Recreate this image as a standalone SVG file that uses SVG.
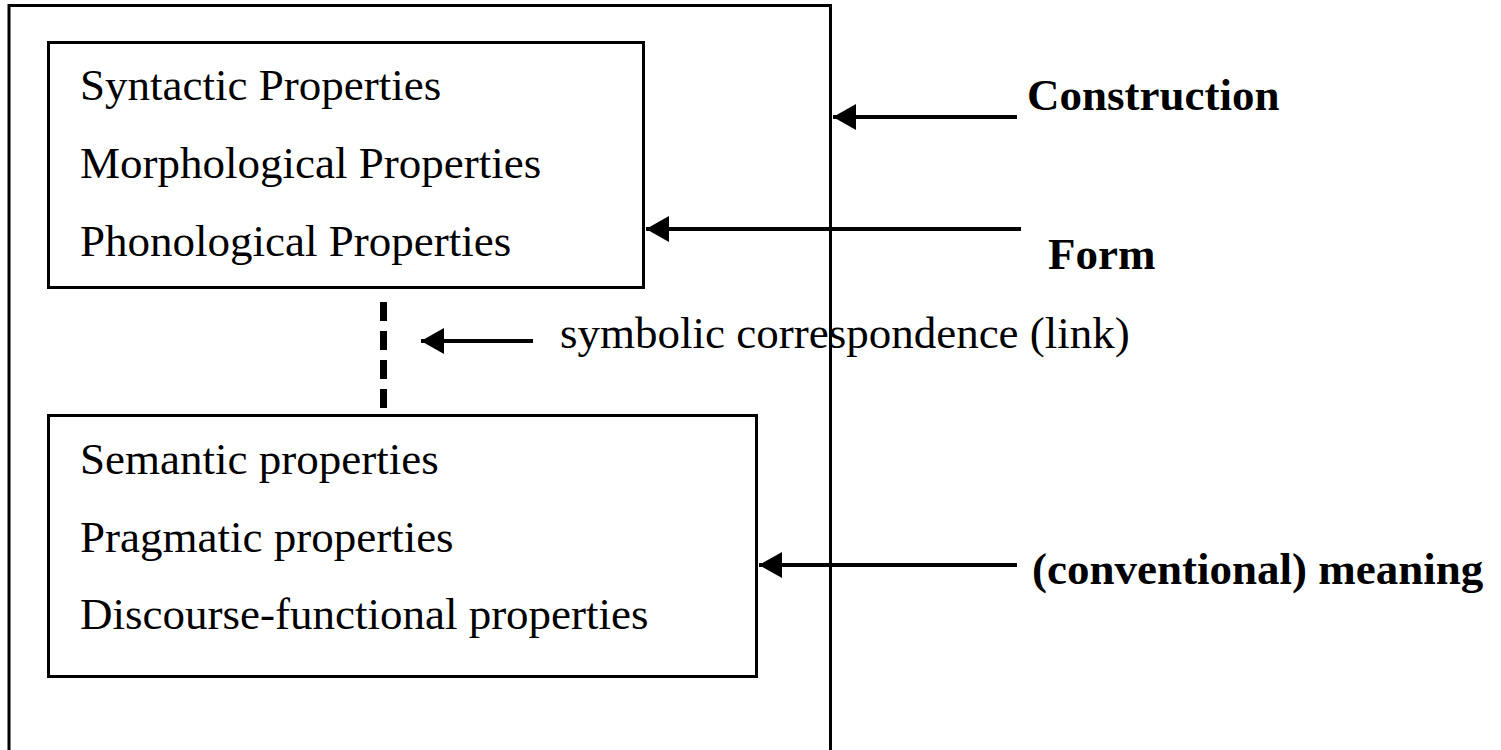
<svg xmlns="http://www.w3.org/2000/svg" width="1501" height="750" viewBox="0 0 1501 750">
  <style>
    .box { fill: none; stroke: #000; stroke-width: 3; }
    .t { font-family: "Liberation Serif", "Times New Roman", serif; font-size: 45px; fill: #000; }
    .b { font-weight: bold; }
    .conn { stroke: #000; stroke-width: 4; fill: none; }
    .dash { stroke: #000; stroke-width: 7; stroke-dasharray: 19 10; fill: none; }
  </style>
  <defs>
    <marker id="ah" markerUnits="userSpaceOnUse" markerWidth="26" markerHeight="28" viewBox="0 0 26 28" refX="24" refY="14" orient="auto">
      <path d="M24,14 L1,1 L1,27 Z" fill="#000"/>
    </marker>
  </defs>
  <rect width="1501" height="750" fill="#fff"/>

  <g id="construction">
    <path class="box" d="M9,760 L9,5.5 L830.5,5.5 L830.5,760"/>
    <text class="t b" x="1027" y="110">Construction</text>
  </g>

  <g id="form">
    <rect class="box" x="48.5" y="42.5" width="595" height="245"/>
    <text class="t" x="80" y="100">Syntactic Properties</text>
    <text class="t" x="80" y="178">Morphological Properties</text>
    <text class="t" x="80" y="256">Phonological Properties</text>
    <text class="t b" x="1048" y="269">Form</text>
  </g>

  <g id="meaning">
    <rect class="box" x="48.5" y="415.5" width="708" height="261"/>
    <text class="t" x="80" y="474">Semantic properties</text>
    <text class="t" x="80" y="552">Pragmatic properties</text>
    <text class="t" x="80" y="629">Discourse-functional properties</text>
    <text class="t b" x="1032" y="584">(conventional) meaning</text>
  </g>

  <g id="link">
    <text class="t" x="560" y="348">symbolic correspondence (link)</text>
  </g>

  <g id="connectors">
    <line class="dash" x1="383.5" y1="302" x2="383.5" y2="408"/>
    <line class="conn" x1="1017" y1="117" x2="833" y2="117" marker-end="url(#ah)"/>
    <line class="conn" x1="1021" y1="229" x2="646" y2="229" marker-end="url(#ah)"/>
    <line class="conn" x1="533" y1="341" x2="421" y2="341" marker-end="url(#ah)"/>
    <line class="conn" x1="1017" y1="565" x2="759" y2="565" marker-end="url(#ah)"/>
  </g>
</svg>
